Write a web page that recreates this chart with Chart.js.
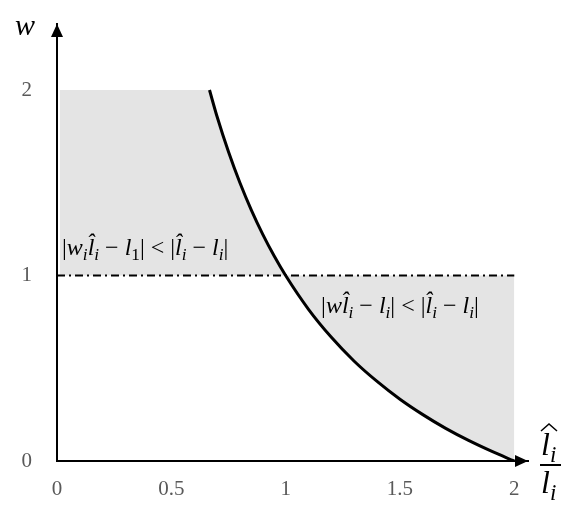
<!DOCTYPE html>
<html>
<head>
<meta charset="utf-8">
<script src="https://cdn.jsdelivr.net/npm/chart.js@4.4.1/dist/chart.umd.min.js"></script>
<style>
  body { margin: 0; background: #fff; }
</style>
</head>
<body>
<canvas id="chart" width="579" height="512"></canvas>
<script>
// Curve w against l̂i/li
const curveX = [0.667, 0.7, 0.75, 0.8, 0.85, 0.9, 0.95, 1.0, 1.1, 1.2, 1.3, 1.4, 1.5, 1.6, 1.7, 1.8, 1.9, 2.0];
const curveW = [2.0, 1.857, 1.667, 1.5, 1.353, 1.222, 1.105, 1.0, 0.818, 0.667, 0.538, 0.429, 0.333, 0.25, 0.176, 0.111, 0.053, 0.0];

// Flat top of the upper shaded region
const topX = [0.013, 0.671];
const topW = [2, 2];

// Dash-dot reference line w = 1
const refX = [0, 2];
const refW = [1, 1];

// Tick labels
const xTicks = [0, 0.5, 1, 1.5, 2];
const yTicks = [0, 1, 2];

const shade = '#e4e4e4';
const tickFont = { family: '"Liberation Serif", "Times New Roman", serif', size: 21 };

const toPoints = (xs, ys) => xs.map((x, i) => ({ x: x, y: ys[i] }));

// no extra room for the tick labels, the layout padding handles it
const noPad = s => { s.paddingTop = 0; s.paddingBottom = 0; s.paddingLeft = 0; s.paddingRight = 0; };

// draws a line of math: tokens are [text, kind]
// kind: r roman, i italic, s italic subscript, n roman subscript
function drawMath(ctx, tokens, x, y, size) {
    const fam = '"Liberation Serif", "Times New Roman", serif';
    tokens.forEach(([t, k]) => {
        let f = size, dy = 0, style = 'italic ';
        if (k === 'r') style = '';
        if (k === 's' || k === 'n') { f = size * 0.72; dy = size * 0.22; }
        if (k === 'n') style = '';
        ctx.font = style + f + 'px ' + fam;
        ctx.fillText(t, x, y + dy);
        x += ctx.measureText(t).width;
    });
}

const decorations = {
    id: 'decorations',
    afterDraw(chart) {
        const ctx = chart.ctx;
        const a = chart.chartArea;
        const xs = chart.scales.x, ys = chart.scales.y;
        ctx.save();
        ctx.fillStyle = '#000';
        ctx.strokeStyle = '#000';

        // arrow heads
        ctx.beginPath();
        ctx.moveTo(a.left, a.top);
        ctx.lineTo(a.left - 6, a.top + 13);
        ctx.lineTo(a.left + 6, a.top + 13);
        ctx.closePath();
        ctx.fill();
        ctx.beginPath();
        ctx.moveTo(a.right, a.bottom);
        ctx.lineTo(a.right - 13, a.bottom - 6);
        ctx.lineTo(a.right - 13, a.bottom + 6);
        ctx.closePath();
        ctx.fill();

        ctx.textBaseline = 'alphabetic';
        ctx.textAlign = 'left';

        // y axis label
        drawMath(ctx, [['w', 'i']], 15, 35, 30);

        // x axis label as fraction
        const fx = 541;
        drawMath(ctx, [['l', 'i'], ['i', 's']], fx, 455, 32);
        ctx.lineWidth = 1.5;
        ctx.beginPath();
        ctx.moveTo(fx, 431);
        ctx.lineTo(fx + 8, 424);
        ctx.lineTo(fx + 16, 431);
        ctx.stroke();
        ctx.lineWidth = 2;
        ctx.beginPath();
        ctx.moveTo(fx - 1, 465);
        ctx.lineTo(fx + 20, 465);
        ctx.stroke();
        drawMath(ctx, [['l', 'i'], ['i', 's']], fx, 493, 32);

        // region annotations
        drawMath(ctx, [
            ['|', 'r'], ['w', 'i'], ['i', 's'], ['l\u0302', 'i'], ['i', 's'],
            [' \u2212 ', 'r'], ['l', 'i'], ['1', 'n'], ['|', 'r'],
            [' < ', 'r'], ['|', 'r'], ['l\u0302', 'i'], ['i', 's'],
            [' \u2212 ', 'r'], ['l', 'i'], ['i', 's'], ['|', 'r']
        ], xs.getPixelForValue(0.022), ys.getPixelForValue(1.11), 24);
        drawMath(ctx, [
            ['|', 'r'], ['w', 'i'], ['l\u0302', 'i'], ['i', 's'],
            [' \u2212 ', 'r'], ['l', 'i'], ['i', 's'], ['|', 'r'],
            [' < ', 'r'], ['|', 'r'], ['l\u0302', 'i'], ['i', 's'],
            [' \u2212 ', 'r'], ['l', 'i'], ['i', 's'], ['|', 'r']
        ], xs.getPixelForValue(1.155), ys.getPixelForValue(0.8), 24);

        ctx.restore();
    }
};

const ctx = document.getElementById('chart').getContext('2d');
new Chart(ctx, {
    type: 'line',
    data: {
        datasets: [{
            // upper region flat top
            data: toPoints(topX, topW),
            borderWidth: 0,
            pointRadius: 0,
            backgroundColor: shade,
            fill: { value: 1 },
            order: 3
        }, {
            // dash-dot line
            data: toPoints(refX, refW),
            borderColor: '#000',
            borderWidth: 2,
            borderDash: [8, 4, 2, 4],
            pointRadius: 0,
            fill: false,
            order: 2
        }, {
            // the curve, shaded to w = 1 on both sides
            data: toPoints(curveX, curveW),
            borderColor: '#000',
            borderWidth: 3,
            pointRadius: 0,
            cubicInterpolationMode: 'monotone',
            backgroundColor: shade,
            fill: { value: 1 },
            order: 1
        }]
    },
    plugins: [decorations],
    options: {
        responsive: false,
        animation: false,
        events: [],
        layout: { padding: { top: 24, right: 51, left: 0, bottom: 0 } },
        plugins: {
            legend: { display: false },
            tooltip: { enabled: false },
            filler: { drawTime: 'beforeDatasetsDraw' }
        },
        scales: {
            x: {
                type: 'linear',
                min: 0,
                max: 2.06,
                afterBuildTicks: s => { s.ticks = xTicks.map(v => ({ value: v })); },
                afterFit: s => { s.height = 51; noPad(s); },
                grid: { display: false, drawTicks: false },
                border: { display: true, color: '#000', width: 2 },
                ticks: {
                    font: tickFont,
                    color: '#595959',
                    padding: 16,
                    maxRotation: 0,
                    callback: v => String(v)
                }
            },
            y: {
                type: 'linear',
                min: 0,
                max: 2.356,
                afterBuildTicks: s => { s.ticks = yTicks.map(v => ({ value: v })); },
                afterFit: s => { s.width = 57; noPad(s); },
                grid: { display: false, drawTicks: false },
                border: { display: true, color: '#000', width: 2 },
                ticks: {
                    font: tickFont,
                    color: '#595959',
                    padding: 25,
                    callback: v => String(v)
                }
            }
        }
    }
});
</script>
</body>
</html>
